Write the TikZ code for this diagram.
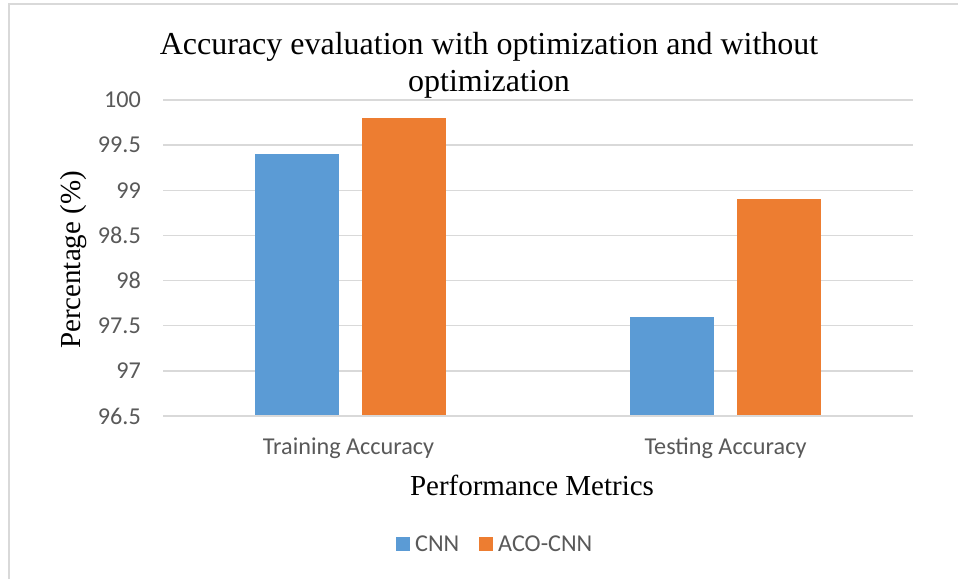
\documentclass[tikz,border=0pt]{standalone}
\usepackage{fontspec}
\setmainfont{Liberation Serif}
\newfontfamily\calib{Carlito}
\definecolor{cnnblue}{HTML}{5B9BD5}
\definecolor{acoorange}{HTML}{ED7D31}
\definecolor{gridgray}{HTML}{D9D9D9}
\definecolor{txtgray}{HTML}{595959}
\begin{document}
\begin{tikzpicture}[x=1pt,y=-1pt,
  gridline/.style={draw=gridgray,line width=1.5pt},
  axisline/.style={draw=gridgray,line width=2pt},
  framebox/.style={draw=gridgray,line width=2pt},
  ticklbl/.style={font=\calib\fontsize{24.2}{27}\selectfont,text=txtgray,inner sep=0pt},
  axtitle/.style={font=\fontsize{29}{33}\selectfont,text=black,inner sep=0pt},
  ttl/.style={font=\fontsize{32}{36}\selectfont,text=black,inner sep=0pt},
  cnnbar/.style={fill=cnnblue,draw=none},
  acobar/.style={fill=acoorange,draw=none}]
\useasboundingbox (0,0) rectangle (958,579);
\fill[white] (0,0) rectangle (958,579);
% frame (left and top only visible)
\draw[framebox] (9,579) -- (9,4) -- (958,4);
% title
\node[ttl,anchor=base] (title1) at (489,54) {Accuracy evaluation with optimization and without};
\node[ttl,anchor=base] (title2) at (489,91) {optimization};
% gridlines and tick labels
\foreach \v/\lab [count=\i] in {100/100,99.5/99.5,99/99,98.5/98.5,98/98,97.5/97.5,97/97} {
  \pgfmathsetmacro{\yy}{100+(100-\v)*90.286}
  \draw[gridline] (163,\yy) -- (913,\yy);
  \node[ticklbl,anchor=east] (yl\i) at (141,\yy) {\lab};
}
% bars
\fill[cnnbar] (255,416) rectangle (339,154.2);
\fill[acobar] (362,416) rectangle (446,118.1);
\fill[cnnbar] (630,416) rectangle (714,317.2);
\fill[acobar] (737,416) rectangle (821,199.3);
% axis
\draw[axisline] (163,416) -- (913,416);
\node[ticklbl,anchor=east] (yl8) at (141,416) {96.5};
% category labels
\node[ticklbl,anchor=base] (cat1) at (348.5,454) {Training Accuracy};
\node[ticklbl,anchor=base] (cat2) at (725.5,454) {Testing Accuracy};
% axis titles
\node[axtitle,anchor=base] (xtitle) at (532,495) {Performance Metrics};
\node[axtitle,anchor=base,rotate=90] (ytitle) at (80,260) {Percentage (\%)};
% legend
\fill[cnnblue] (396,537) rectangle (410,551);
\node[ticklbl,anchor=west] (leg1) at (415,544) {CNN};
\fill[acoorange] (479,537) rectangle (493,551);
\node[ticklbl,anchor=west] (leg2) at (498,544) {ACO-CNN};
\end{tikzpicture}
\end{document}
